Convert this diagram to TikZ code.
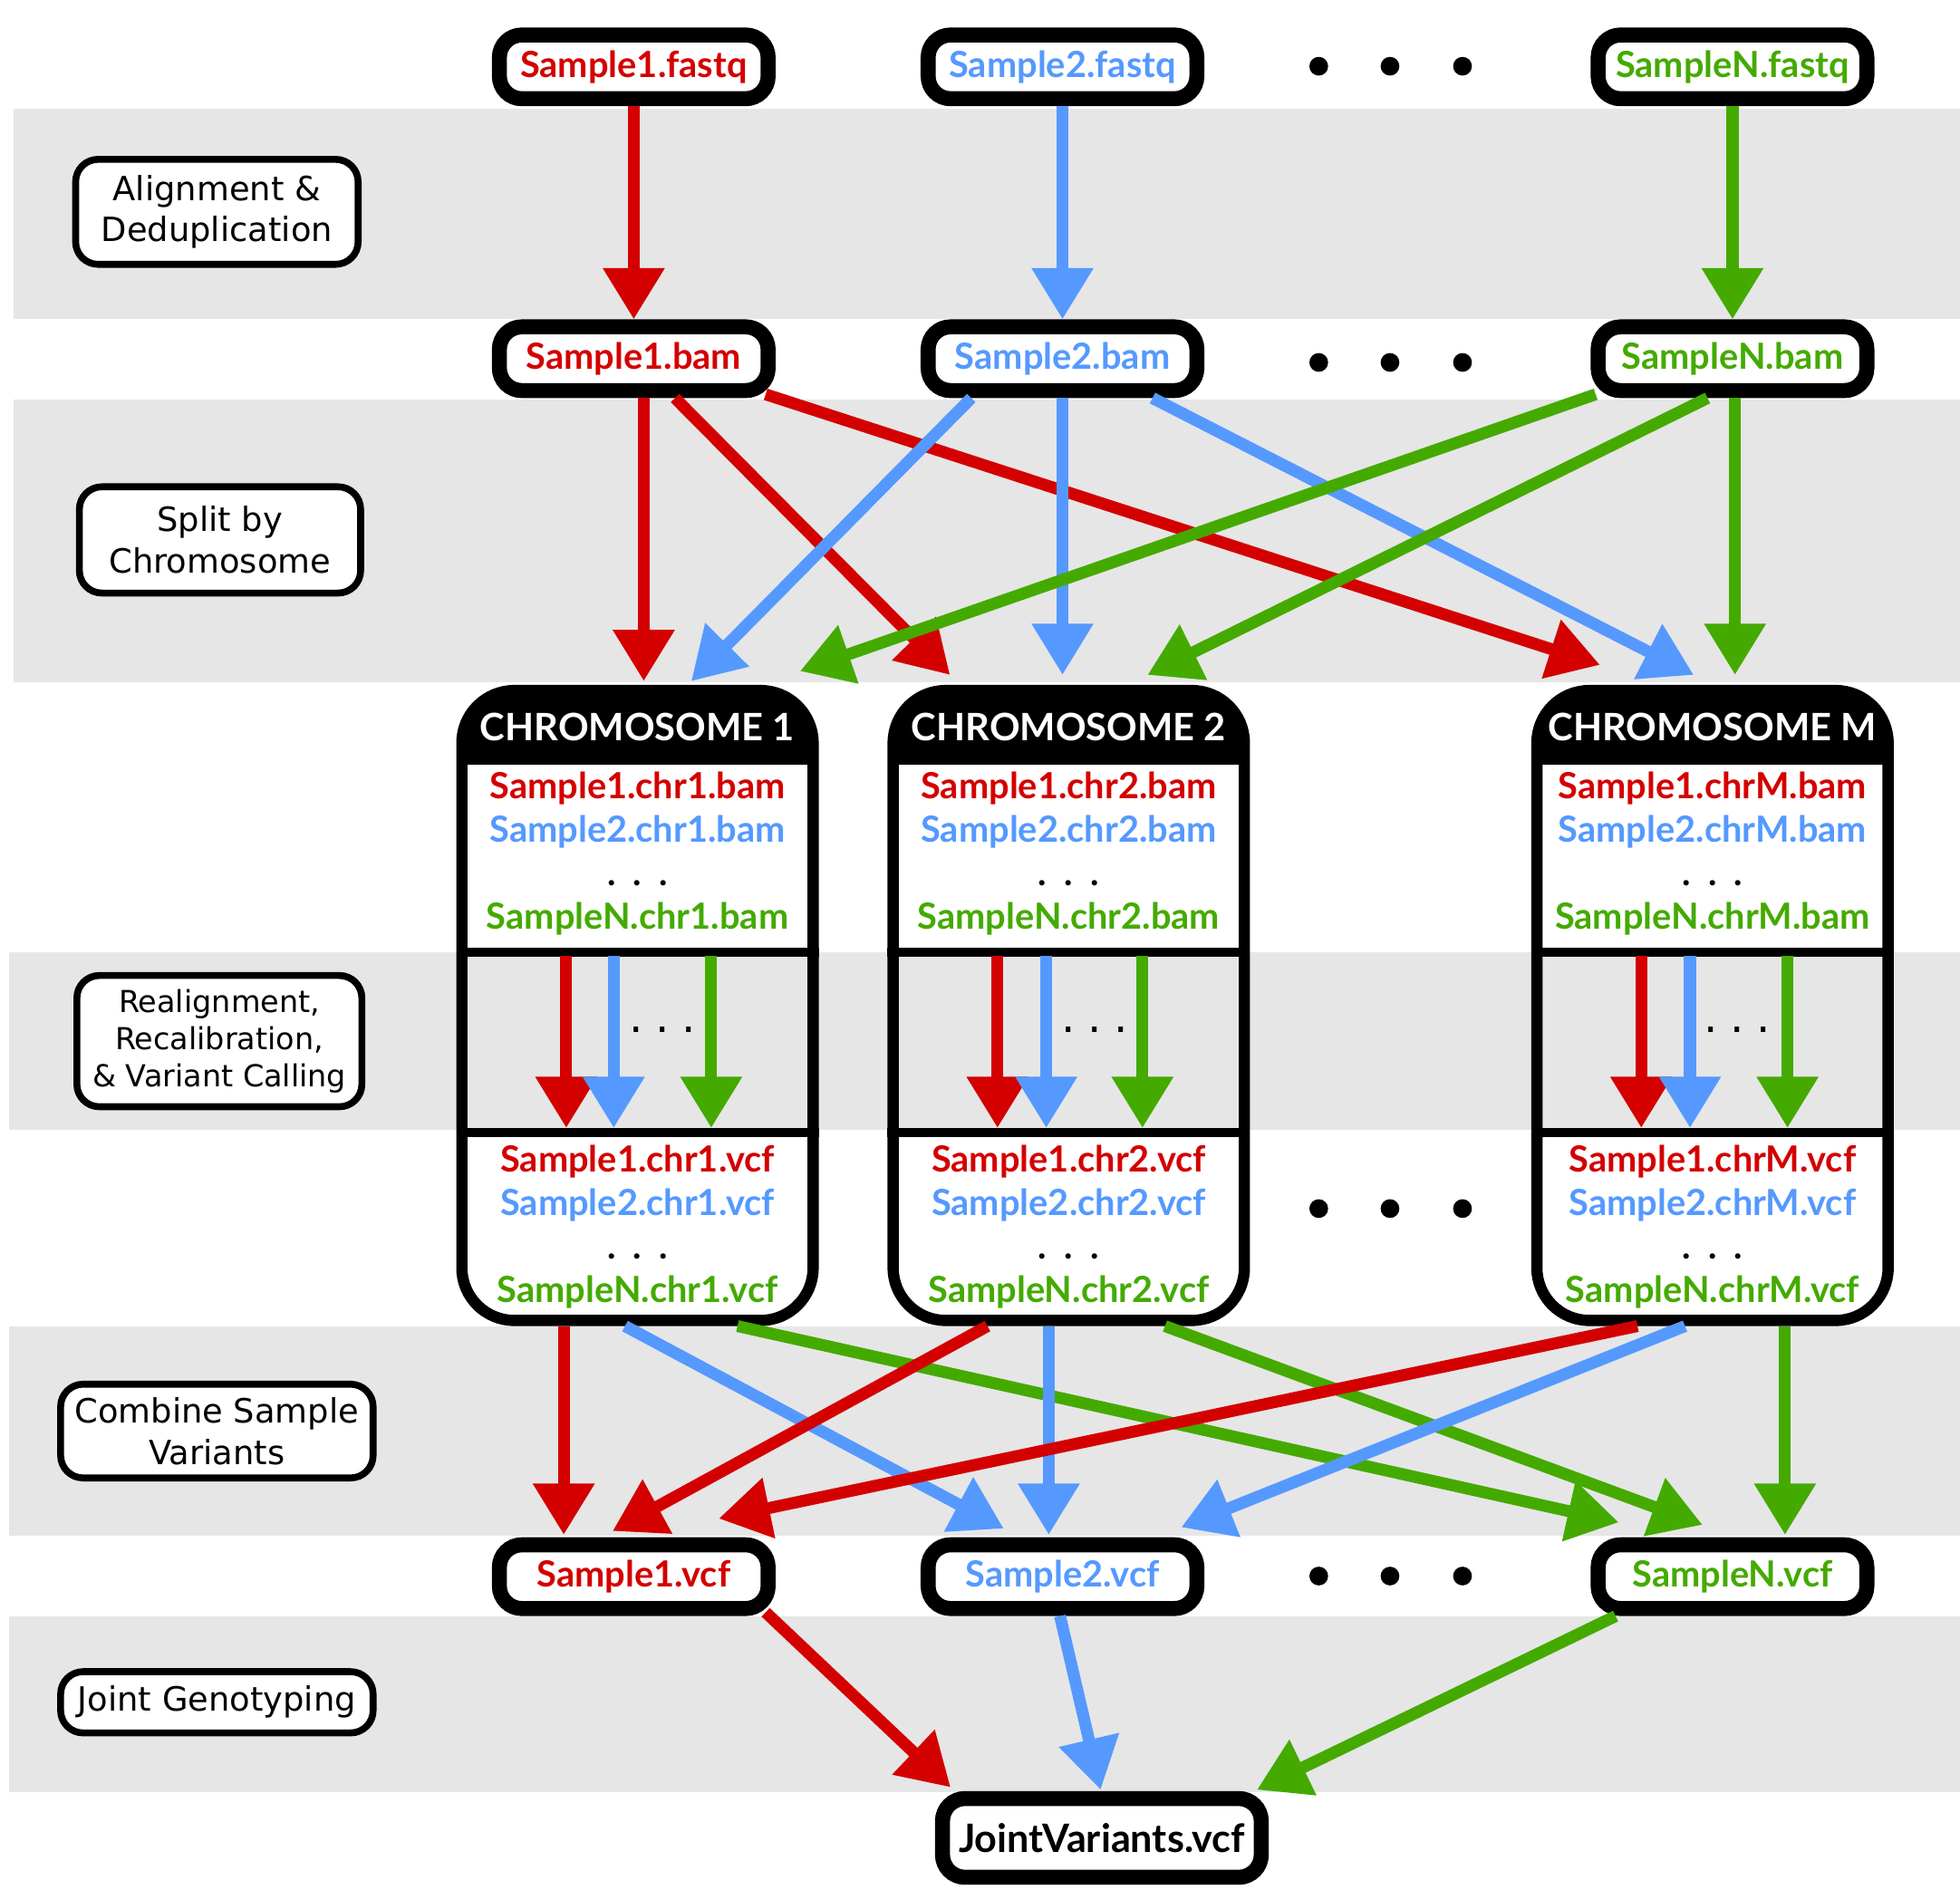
\documentclass[tikz,border=0pt]{standalone}
\usepackage{fontspec}
\setmainfont{DejaVu Sans}
\newfontfamily\latofont{Lato}
\usepackage{tikz}
\usetikzlibrary{arrows.meta,calc}
\definecolor{sred}{HTML}{D40000}
\definecolor{sblue}{HTML}{5599FF}
\definecolor{sgreen}{HTML}{44AA00}
\definecolor{bandgray}{HTML}{E6E6E6}
\newcommand{\filefont}{\latofont\fontsize{8.2}{9.9}\selectfont\bfseries}
\newcommand{\headfont}{\latofont\fontsize{8.6}{9}\selectfont\bfseries}
\newcommand{\stepfont}{\fontsize{7.6}{9.4}\selectfont}
\newcommand{\filedots}{.\hspace{1.4mm}.\hspace{1.4mm}.}
\newcommand{\stepdots}{.\hspace{1mm}.\hspace{1mm}.}
\tikzstyle{arrow} = [-{Triangle[width=4.7mm,length=4.1mm]}, line width=0.95mm]
\tikzstyle{filebox} = [draw, line width=1.2mm, rounded corners=1.8mm, fill=white, minimum width=21.5mm, minimum height=5.1mm, inner sep=0pt, font=\filefont]
\tikzstyle{stepbox} = [draw, line width=0.55mm, rounded corners=1.8mm, fill=white, align=center, inner sep=0pt, font=\stepfont]
\tikzstyle{chrbox} = [draw, line width=0.9mm, rounded corners=4.2mm, minimum width=28.1mm, minimum height=50.4mm, inner sep=0pt]
\tikzstyle{chrlist} = [align=center, font=\filefont]
\tikzstyle{bigdot} = [fill=black]

\begin{document}
\begin{tikzpicture}[x=0.1mm, y=-0.1mm]
	\useasboundingbox (0,0) rectangle (1568,1512);
	% background bands
	\fill[bandgray] (11,87) rectangle (1568,255);
	\fill[bandgray] (11,320) rectangle (1568,546);
	\fill[bandgray] (7,762) rectangle (1568,904);
	\fill[bandgray] (7,1061) rectangle (1568,1229);
	\fill[bandgray] (7,1293) rectangle (1568,1434);

	% steps
	\node[stepbox, minimum width=22.6mm, minimum height=8.4mm] (align) at (173.5,169.5) {Alignment \&\\Deduplication};
	\node[stepbox, minimum width=22.5mm, minimum height=8.5mm] (split) at (176,432) {Split by\\Chromosome};
	\node[stepbox, minimum width=22.8mm, minimum height=10.5mm, font=\fontsize{6.9}{8.5}\selectfont] (realign) at (175.5,833) {Realignment,\\Recalibration,\\\& Variant Calling};
	\node[stepbox, minimum width=25mm, minimum height=7.5mm] (combine) at (173.5,1145) {Combine Sample\\Variants};
	\node[stepbox, minimum width=25mm, minimum height=4.9mm] (genotype) at (173.5,1362) {Joint Genotyping};

	% files
	\node[filebox, text=sred] (fq1) at (507,53.5) {Sample1.fastq};
	\node[filebox, text=sblue] (fq2) at (850,53.5) {Sample2.fastq};
	\node[filebox, text=sgreen] (fqN) at (1386,53.5) {SampleN.fastq};
	\node[filebox, text=sred] (bam1) at (507,287) {Sample1.bam};
	\node[filebox, text=sblue] (bam2) at (850,287) {Sample2.bam};
	\node[filebox, text=sgreen] (bamN) at (1386,287) {SampleN.bam};
	\node[filebox, text=sred] (vcf1) at (507,1261.5) {Sample1.vcf};
	\node[filebox, text=sblue] (vcf2) at (850,1261.5) {Sample2.vcf};
	\node[filebox, text=sgreen] (vcfN) at (1386,1261.5) {SampleN.vcf};
	\node[filebox, minimum width=25.5mm, minimum height=6.3mm, font=\latofont\fontsize{8.9}{9}\selectfont\bfseries] (joint) at (881.5,1470.5) {JointVariants.vcf};

	% dots
	\fill[bigdot] (1055,53) circle[radius=0.75mm] (1112,53) circle[radius=0.75mm] (1170,53) circle[radius=0.75mm];
	\fill[bigdot] (1055,290) circle[radius=0.75mm] (1112,290) circle[radius=0.75mm] (1170,290) circle[radius=0.75mm];
	\fill[bigdot] (1055,967) circle[radius=0.75mm] (1112,967) circle[radius=0.75mm] (1170,967) circle[radius=0.75mm];
	\fill[bigdot] (1055,1261) circle[radius=0.75mm] (1112,1261) circle[radius=0.75mm] (1170,1261) circle[radius=0.75mm];

	% chromosome 1
	\node[chrbox] (chr1) at (510,804.5) {};
	\begin{scope}
		\clip[rounded corners=3.8mm] ($(chr1.north west)+(4,4)$) rectangle ($(chr1.south east)+(-4,-4)$);
		\fill ($(chr1.north west)+(4,4)$) rectangle ($(chr1.north east)+(-4,64)$);
	\end{scope}
	\draw[line width=0.7mm] ($(chr1.west)+(0,-42.5)$) -- ($(chr1.east)+(0,-42.5)$);
	\draw[line width=0.7mm] ($(chr1.west)+(0,101.5)$) -- ($(chr1.east)+(0,101.5)$);
	\node[text=white, font=\headfont] (head1) at ($(chr1.north)+(0,34)$) {CHROMOSOME 1};
	\node[chrlist] (bams1) at ($(chr1.north)+(0,135)$) {\textcolor{sred}{Sample1.chr1.bam}\\\textcolor{sblue}{Sample2.chr1.bam}\\\filedots\\\textcolor{sgreen}{SampleN.chr1.bam}};
	\node[chrlist] (vcfs1) at ($(chr1.north)+(0,433.5)$) {\textcolor{sred}{Sample1.chr1.vcf}\\\textcolor{sblue}{Sample2.chr1.vcf}\\\filedots\\\textcolor{sgreen}{SampleN.chr1.vcf}};
	\node (dots1) at ($(chr1.center)+(20,19.5)$) {\stepdots};
	\draw [arrow, sred] ($(chr1.center)+(-57,-40)$) -- ($(chr1.center)+(-57,98)$);
	\draw [arrow, sblue] ($(chr1.center)+(-19,-40)$) -- ($(chr1.center)+(-19,98)$);
	\draw [arrow, sgreen] ($(chr1.center)+(59,-40)$) -- ($(chr1.center)+(59,98)$);

	% chromosome 2
	\node[chrbox] (chr2) at (855,804.5) {};
	\begin{scope}
		\clip[rounded corners=3.8mm] ($(chr2.north west)+(4,4)$) rectangle ($(chr2.south east)+(-4,-4)$);
		\fill ($(chr2.north west)+(4,4)$) rectangle ($(chr2.north east)+(-4,64)$);
	\end{scope}
	\draw[line width=0.7mm] ($(chr2.west)+(0,-42.5)$) -- ($(chr2.east)+(0,-42.5)$);
	\draw[line width=0.7mm] ($(chr2.west)+(0,101.5)$) -- ($(chr2.east)+(0,101.5)$);
	\node[text=white, font=\headfont] (head2) at ($(chr2.north)+(0,34)$) {CHROMOSOME 2};
	\node[chrlist] (bams2) at ($(chr2.north)+(0,135)$) {\textcolor{sred}{Sample1.chr2.bam}\\\textcolor{sblue}{Sample2.chr2.bam}\\\filedots\\\textcolor{sgreen}{SampleN.chr2.bam}};
	\node[chrlist] (vcfs2) at ($(chr2.north)+(0,433.5)$) {\textcolor{sred}{Sample1.chr2.vcf}\\\textcolor{sblue}{Sample2.chr2.vcf}\\\filedots\\\textcolor{sgreen}{SampleN.chr2.vcf}};
	\node (dots2) at ($(chr2.center)+(21,19.5)$) {\stepdots};
	\draw [arrow, sred] ($(chr2.center)+(-57,-40)$) -- ($(chr2.center)+(-57,98)$);
	\draw [arrow, sblue] ($(chr2.center)+(-18,-40)$) -- ($(chr2.center)+(-18,98)$);
	\draw [arrow, sgreen] ($(chr2.center)+(59,-40)$) -- ($(chr2.center)+(59,98)$);

	% chromosome M
	\node[chrbox] (chrM) at (1370,804.5) {};
	\begin{scope}
		\clip[rounded corners=3.8mm] ($(chrM.north west)+(4,4)$) rectangle ($(chrM.south east)+(-4,-4)$);
		\fill ($(chrM.north west)+(4,4)$) rectangle ($(chrM.north east)+(-4,64)$);
	\end{scope}
	\draw[line width=0.7mm] ($(chrM.west)+(0,-42.5)$) -- ($(chrM.east)+(0,-42.5)$);
	\draw[line width=0.7mm] ($(chrM.west)+(0,101.5)$) -- ($(chrM.east)+(0,101.5)$);
	\node[text=white, font=\headfont] (headM) at ($(chrM.north)+(0,34)$) {CHROMOSOME M};
	\node[chrlist] (bamsM) at ($(chrM.north)+(0,135)$) {\textcolor{sred}{Sample1.chrM.bam}\\\textcolor{sblue}{Sample2.chrM.bam}\\\filedots\\\textcolor{sgreen}{SampleN.chrM.bam}};
	\node[chrlist] (vcfsM) at ($(chrM.north)+(0,433.5)$) {\textcolor{sred}{Sample1.chrM.vcf}\\\textcolor{sblue}{Sample2.chrM.vcf}\\\filedots\\\textcolor{sgreen}{SampleN.chrM.vcf}};
	\node (dotsM) at ($(chrM.center)+(20,19.5)$) {\stepdots};
	\draw [arrow, sred] ($(chrM.center)+(-57,-40)$) -- ($(chrM.center)+(-57,98)$);
	\draw [arrow, sblue] ($(chrM.center)+(-18,-40)$) -- ($(chrM.center)+(-18,98)$);
	\draw [arrow, sgreen] ($(chrM.center)+(60,-40)$) -- ($(chrM.center)+(60,98)$);

	% alignment
	\draw [arrow, sred] (fq1) -- (bam1);
	\draw [arrow, sblue] (fq2) -- (bam2);
	\draw [arrow, sgreen] (fqN) -- (bamN);

	% split
	\draw [arrow, sred] ($(bam1.south)+(8,0)$) -- ($(chr1.north)+(5,-3)$);
	\draw [arrow, sred] ($(bam1.south)+(33,0)$) -- ($(chr2.north)+(-95,-8)$);
	\draw [arrow, sred] ($(bam1.south east)+(-8,-3)$) -- ($(chrM.north)+(-90,-16)$);
	\draw [arrow, sblue] ($(bam2.south)+(-73,0)$) -- ($(chr1.north)+(43,-3)$);
	\draw [arrow, sblue] (bam2.south) -- ($(chr2.north)+(-5,-8)$);
	\draw [arrow, sblue] ($(bam2.south)+(72,0)$) -- ($(chrM.north)+(-15,-8)$);
	\draw [arrow, sgreen] ($(bamN.south west)+(4,-3)$) -- ($(chr1.north)+(130,-11)$);
	\draw [arrow, sgreen] ($(bamN.south)+(-20,0)$) -- ($(chr2.north)+(63,-8)$);
	\draw [arrow, sgreen] ($(bamN.south)+(2,0)$) -- ($(chrM.north)+(18,-8)$);

	% combine
	\draw [arrow, sred] ($(chr1.south)+(-59,0)$) -- ($(vcf1.north)+(-56,-2)$);
	\draw [arrow, sblue] ($(chr1.south)+(-10,0)$) -- ($(vcf2.north)+(-47,-7)$);
	\draw [arrow, sgreen] ($(chr1.south)+(80,0)$) -- ($(vcfN.north)+(-91,-12)$);
	\draw [arrow, sred] ($(chr2.south)+(-65,0)$) -- ($(vcf1.north)+(-17,-5)$);
	\draw [arrow, sblue] ($(chr2.south)+(-16,0)$) -- ($(vcf2.north)+(-11,-2)$);
	\draw [arrow, sgreen] ($(chr2.south)+(77,0)$) -- ($(vcfN.north)+(-24,-10)$);
	\draw [arrow, sred] ($(chrM.south)+(-60,0)$) -- ($(vcf1.north)+(68,-15)$);
	\draw [arrow, sblue] ($(chrM.south)+(-22,0)$) -- ($(vcf2.north)+(95,-8)$);
	\draw [arrow, sgreen] ($(chrM.south)+(58,0)$) -- ($(vcfN.north)+(42,-2)$);

	% joint genotyping
	\draw [arrow, sred] ($(vcf1.south east)+(-8,-3)$) -- ($(joint.north)+(-121,-3)$);
	\draw [arrow, sblue] ($(vcf2.south)+(-2,0)$) -- ($(joint.north)+(-1,-1)$);
	\draw [arrow, sgreen] ($(vcfN.south west)+(20,0)$) -- ($(joint.north)+(124,-1)$);
\end{tikzpicture}
\end{document}
